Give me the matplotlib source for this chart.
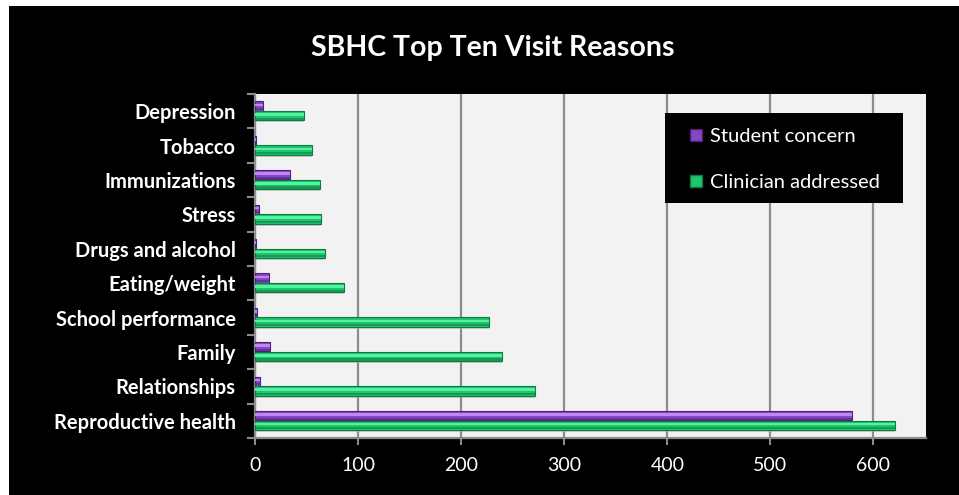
import matplotlib
matplotlib.use('Agg')
import matplotlib.pyplot as plt
from matplotlib.patches import Patch, Rectangle
import numpy as np

plt.rcParams['font.family'] = ['Lato', 'DejaVu Sans']

# categories listed bottom to top
reasons = ['Reproductive health', 'Relationships', 'Family', 'School performance',
           'Eating/weight', 'Drugs and alcohol', 'Stress', 'Immunizations',
           'Tobacco', 'Depression']
student_concern = [579, 5, 15, 2, 14, 1, 4, 34, 1, 8]
clinician_addressed = [621, 272, 240, 227, 86, 68, 64, 63, 55, 48]
xticks = [0, 100, 200, 300, 400, 500, 600]

purple = '#8447c4'
purple_hi = '#c184f0'
purple_dk = '#4b2275'
green = '#1fc56e'
green_hi = '#55f0a2'
green_dk = '#0d7a40'

fig = plt.figure(figsize=(9.59, 4.95), dpi=100)
fig.patch.set_facecolor('white')
# black panel with a small white margin top/left
fig.add_artist(Rectangle((9/959, 0), 1, 1 - 6/495, transform=fig.transFigure,
                         facecolor='black', edgecolor='none', zorder=0))

ax = fig.add_axes([255/959, 57/495, 671/959, 344/495])
ax.set_facecolor('#f2f2f2')

y = np.arange(len(reasons))
h = 0.27


def draw_bars(ypos, vals, main, hi, dk):
    # drop shadow, body, highlight stripe
    ax.barh(ypos - 0.06, vals, height=h, left=0, color='#b0b0b0', alpha=0.6,
            edgecolor='none', zorder=2)
    ax.barh(ypos, vals, height=h, color=main, edgecolor=dk, linewidth=0.8, zorder=3)
    ax.barh(ypos + h * 0.12, vals, height=h * 0.28, color=hi, edgecolor='none', zorder=4)
    ax.barh(ypos - h * 0.33, vals, height=h * 0.25, color=dk, alpha=0.55,
            edgecolor='none', zorder=4)


draw_bars(y + 0.15, student_concern, purple, purple_hi, purple_dk)
draw_bars(y - 0.13, clinician_addressed, green, green_hi, green_dk)

ax.set_xlim(0, 651)
ax.set_ylim(-0.5, len(reasons) - 0.5)

ax.set_xticks(xticks)
ax.set_xticklabels([str(t) for t in xticks], color='white', fontsize=14)
ax.tick_params(axis='x', length=5, width=1.5, color='#8c8c8c', pad=9)
ax.xaxis.grid(True, color='#8c8c8c', linewidth=1.6, zorder=1)
ax.set_axisbelow(True)

ax.set_yticks(y)
ax.set_yticklabels(reasons, color='white', fontsize=14.5, fontweight='bold')
ax.tick_params(axis='y', which='major', length=0, pad=14)
ax.set_yticks(np.arange(len(reasons) + 1) - 0.5, minor=True)
ax.tick_params(axis='y', which='minor', length=6, width=1.5, color='#8c8c8c')

for side in ['top', 'right']:
    ax.spines[side].set_visible(False)
for side in ['left', 'bottom']:
    ax.spines[side].set_color('#8c8c8c')
    ax.spines[side].set_linewidth(1.6)

# legend box (black panel) drawn separately so padding can be uneven
ax.add_patch(Rectangle((0.611, 0.683), 0.355, 0.262, transform=ax.transAxes,
                       facecolor='black', edgecolor='none', zorder=9))
handles = [Patch(facecolor=purple, edgecolor=purple_dk, label='Student concern'),
           Patch(facecolor=green, edgecolor=green_dk, label='Clinician addressed')]
leg = ax.legend(handles=handles, loc='upper left', bbox_to_anchor=(0.649, 0.901),
                frameon=False, fontsize=14.5, labelcolor='white', handlelength=0.55,
                handleheight=0.55, handletextpad=0.4, labelspacing=1.45,
                borderpad=0, borderaxespad=0)
leg.set_zorder(10)

fig.text(493/959, 1 - 48/495, 'SBHC Top Ten Visit Reasons', color='white',
         fontsize=20.5, fontweight='bold', ha='center', va='center')

fig.savefig('out.png', dpi=100, facecolor=fig.get_facecolor())
